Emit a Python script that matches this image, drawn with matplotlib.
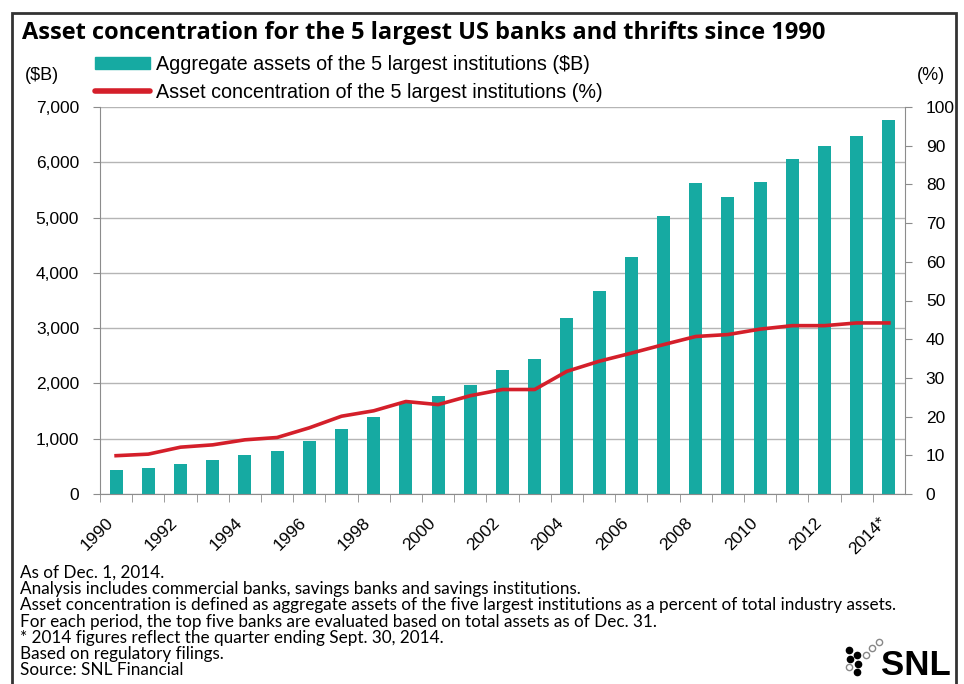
#!/usr/bin/env python

"""Asset concentration of the 5 largest US banks and thrifts, 1990-2014."""

import matplotlib.pyplot as plt
from matplotlib.patches import Rectangle, Patch
from matplotlib.lines import Line2D

years = [str(y) for y in range(1990, 2014)] + ["2014*"]
assets_bn = [440, 470, 550, 610, 710, 780, 950, 1180, 1390, 1645, 1765, 1975,
             2235, 2440, 3180, 3665, 4295, 5020, 5620, 5380, 5650, 6060, 6300,
             6475, 6765]
concentration_pct = [9.9, 10.3, 12.1, 12.7, 14.0, 14.6, 17.1, 20.1, 21.5, 23.9,
                     23.1, 25.4, 27.0, 27.0, 31.7, 34.3, 36.4, 38.6, 40.7, 41.2,
                     42.6, 43.5, 43.5, 44.2, 44.2]

notes = [
    "As of Dec. 1, 2014.",
    "Analysis includes commercial banks, savings banks and savings institutions.",
    "Asset concentration is defined as aggregate assets of the five largest "
    "institutions as a percent of total industry assets.",
    "For each period, the top five banks are evaluated based on total assets as of Dec. 31.",
    "* 2014 figures reflect the quarter ending Sept. 30, 2014.",
    "Based on regulatory filings.",
    "Source: SNL Financial",
]

teal = "#16aaa2"
red = "#d41f2a"
grey = "#8c8c8c"

plt.rcParams["font.family"] = ["Liberation Sans", "DejaVu Sans"]

fig = plt.figure(figsize=(9.64, 6.84), dpi=100)
ax = fig.add_axes([100 / 964, 1 - 494 / 684, 805 / 964, 387 / 684])
ax2 = ax.twinx()

x = list(range(len(years)))
ax.bar(x, assets_bn, width=0.4, color=teal, zorder=2)
ax2.plot(x, concentration_pct, color=red, lw=2.6, zorder=3)

ax.set_xlim(-0.5, len(years) - 0.5)
ax.set_ylim(0, 7000)
ax2.set_ylim(0, 100)
ax.set_yticks(range(0, 7001, 1000))
ax.set_yticklabels([f"{v:,}" for v in range(0, 7001, 1000)], fontsize=12.5)
ax2.set_yticks(range(0, 101, 10))
ax2.set_yticklabels([str(v) for v in range(0, 101, 10)], fontsize=12.5)
ax.yaxis.grid(True, color="#b5b5b5", lw=1)
ax.set_axisbelow(True)

# labels every other year at bar centres, tick marks between bars
ax.set_xticks(x[::2])
ax.set_xticklabels(years[::2], rotation=45, ha="right", va="top", fontsize=12.5)
ax.set_xticks([i - 0.5 for i in x], minor=True)
ax.tick_params(axis="x", which="major", length=0, pad=15)
ax.tick_params(axis="x", which="minor", length=6, color=grey, direction="out")
ax.tick_params(axis="y", length=5, color=grey, pad=10)
ax2.tick_params(axis="y", length=5, color=grey, pad=10)

for a in (ax, ax2):
    for s in a.spines.values():
        s.set_visible(False)
ax.spines["left"].set_visible(True)
ax.spines["left"].set_color(grey)
ax.spines["bottom"].set_visible(True)
ax.spines["bottom"].set_color(grey)
ax2.spines["right"].set_visible(True)
ax2.spines["right"].set_color(grey)

fig.text(22 / 964, 1 - 39 / 684, "Asset concentration for the 5 largest US banks and thrifts since 1990",
         family="Open Sans", weight="bold", fontsize=17, va="baseline")
fig.text(25 / 964, 1 - 80 / 684, "($B)", fontsize=13, va="baseline")
fig.text(917 / 964, 1 - 80 / 684, "(%)", fontsize=13, va="baseline")

handles = [Patch(color=teal), Line2D([], [], color=red, lw=4, solid_capstyle="round")]
fig.legend(handles,
           ["Aggregate assets of the 5 largest institutions ($B)",
            "Asset concentration of the 5 largest institutions (%)"],
           loc="upper left", bbox_to_anchor=(95 / 964, 1 - 55 / 684),
           frameon=False, fontsize=14.2, handlelength=2.8, handleheight=0.6,
           handletextpad=0.3, labelspacing=0.45, borderaxespad=0, borderpad=0)

for i, line in enumerate(notes):
    fig.text(20 / 964, 1 - (578 + i * 16.2) / 684, line, family="Lato",
             fontsize=12.3, va="baseline")

# SNL logo
fig.text(951 / 964, 1 - 675 / 684, "SNL", ha="right", va="baseline",
         weight="bold", fontsize=25)
for dx, dy, filled in [(849, 650, True), (857, 655, True), (850, 659, True),
                       (858, 664, True), (866, 655, False), (872, 648, False),
                       (879, 642, False), (849, 667, False), (857, 672, True)]:
    fig.add_artist(Line2D([dx / 964], [1 - dy / 684], transform=fig.transFigure,
                          marker="o", ms=4.5, ls="",
                          mfc="black" if filled else "white",
                          mec="black" if filled else "#888888", mew=1))

fig.add_artist(Rectangle((12 / 964, -0.05), 944 / 964, 1.05 - 13 / 684,
                         transform=fig.transFigure, fill=False,
                         ec="#333333", lw=2))

fig.savefig("out.png", dpi=100)
